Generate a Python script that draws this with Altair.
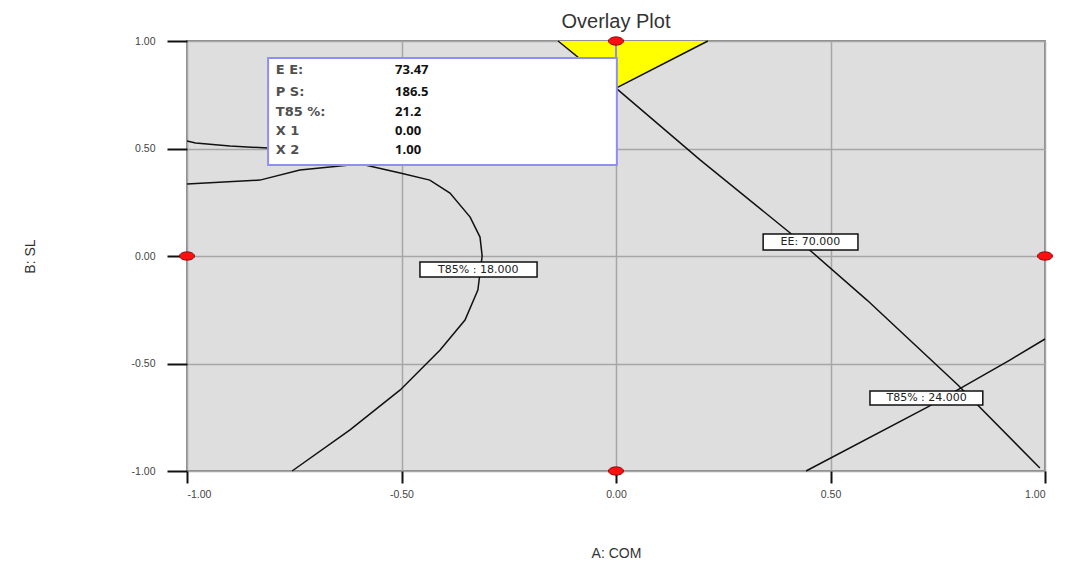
import altair as alt
import pandas as pd

# ---- data ----
ee_x = [-0.135, 0.0, 0.196, 0.406, 0.585, 0.797, 0.988]
ee_y = [1.0, 0.781, 0.447, 0.107, -0.205, -0.600, -0.986]
ps_x = [0.214, 0.0, -0.20]
ps_y = [1.0, 0.781, 0.58]
t18a_x = [-1.0, -0.98, -0.90, -0.811, -0.70]
t18a_y = [0.535, 0.526, 0.512, 0.502, 0.49]
t18b_x = [-1.0, -0.830, -0.737, -0.620, -0.585, -0.503, -0.434, -0.387, -0.340,
          -0.317, -0.312, -0.322, -0.352, -0.410, -0.503, -0.620, -0.755]
t18b_y = [0.335, 0.353, 0.400, 0.423, 0.423, 0.386, 0.353, 0.293, 0.181,
          0.088, 0.0, -0.158, -0.298, -0.437, -0.623, -0.809, -1.0]
t24_x = [0.443, 0.727, 0.918, 1.0]
t24_y = [-1.0, -0.702, -0.484, -0.386]

yellow_x = [-0.135, 0.0, 0.214]
yellow_top = [1.0, 1.0, 1.0]
yellow_bottom = [1.0, 0.781, 1.0]

design_x = [0.0, -1.0, 1.0, 0.0]
design_y = [1.0, 0.0, 0.0, -1.0]

clabel_text = ["EE: 70.000", "T85% : 18.000", "T85% : 24.000"]
clabel_x = [0.453, -0.321, 0.724]
clabel_y = [0.065, -0.063, -0.660]
clabel_x0 = [0.343, -0.457, 0.592]
clabel_x1 = [0.564, -0.184, 0.855]
clabel_y0 = [0.102, -0.028, -0.628]
clabel_y1 = [0.028, -0.098, -0.693]

tip_names = ["E E:", "P S:", "T85 %:", "X 1", "X 2"]
tip_values = ["73.47", "186.5", "21.2", "0.00", "1.00"]
tip_row_y = [0.865, 0.763, 0.670, 0.581, 0.493]
tip_name_x = -0.793
tip_value_x = -0.515
tip_box = dict(x=-0.811, x2=0.002, y=0.921, y2=0.423)

# ---- tables ----
rows = []
for name, xs_, ys_ in [("ee", ee_x, ee_y), ("ps", ps_x, ps_y), ("t18a", t18a_x, t18a_y),
                       ("t18b", t18b_x, t18b_y), ("t24", t24_x, t24_y)]:
    for i, (a, b) in enumerate(zip(xs_, ys_)):
        rows.append({"curve": name, "order": i, "x": a, "y": b})
lines_df = pd.DataFrame(rows)
yellow_df = pd.DataFrame({"x": yellow_x, "y": yellow_top, "y2": yellow_bottom})
design_df = pd.DataFrame({"x": design_x, "y": design_y})
clab_df = pd.DataFrame({"text": clabel_text, "x": clabel_x, "y": clabel_y,
                        "x0": clabel_x0, "x1": clabel_x1, "y0": clabel_y0, "y1": clabel_y1})
tipbox_df = pd.DataFrame([tip_box])
tipconn_df = pd.DataFrame({"x": [0.0], "y": [1.0], "y2": [tip_box["y"]]})
tipnames_df = pd.DataFrame({"text": tip_names, "x": [tip_name_x] * 5, "y": tip_row_y})
tipvals_df = pd.DataFrame({"text": tip_values, "x": [tip_value_x] * 5, "y": tip_row_y})

# ---- scales & axes ----
xs = alt.Scale(domain=[-1, 1], nice=False, zero=False)
ys = alt.Scale(domain=[-1, 1], nice=False, zero=False)
lab_expr = "replace(format(datum.value, '.2f'), '\u2212', '-')"
xax = alt.Axis(values=[-1, -0.5, 0, 0.5, 1], labelExpr=lab_expr, title="A: COM",
               grid=True, gridColor="#a6a6a6", gridWidth=1.5, domain=False,
               ticks=True, tickColor="#111111", tickWidth=2, tickSize=12, labelPadding=6,
               labelFont="Liberation Sans", labelFontSize=10.5, labelColor="#444444",
               titleFont="Liberation Sans", titleFontSize=14, titleFontWeight="normal",
               titleColor="#333333", titleX=429, titleY=82, titleBaseline="middle",
               titleAlign="center")
yax = alt.Axis(values=[-1, -0.5, 0, 0.5, 1], labelExpr=lab_expr, title="B: SL",
               grid=True, gridColor="#a6a6a6", gridWidth=1.5, domain=False,
               ticks=True, tickColor="#111111", tickWidth=2, tickSize=20, labelPadding=12,
               labelFont="Liberation Sans", labelFontSize=10.5, labelColor="#444444",
               titleFont="Liberation Sans", titleFontSize=14, titleFontWeight="normal",
               titleColor="#333333", titleX=-157, titleY=215, titleBaseline="middle",
               titleAlign="center", titleAngle=270)

X = alt.X("x:Q", scale=xs, axis=xax)
Y = alt.Y("y:Q", scale=ys, axis=yax)

yellow = alt.Chart(yellow_df).mark_area(color="#ffff00", opacity=1).encode(
    x=X, y=Y, y2="y2:Q")

lines = alt.Chart(lines_df).mark_line(color="#111111", strokeWidth=1.5).encode(
    x=X, y=Y, detail="curve:N", order="order:Q")

clab_box = alt.Chart(clab_df).mark_rect(fill="white", stroke="#111111", strokeWidth=1.5).encode(
    x=alt.X("x0:Q", scale=xs, axis=xax), x2="x1:Q",
    y=alt.Y("y0:Q", scale=ys, axis=yax), y2="y1:Q")
clab_text = alt.Chart(clab_df).mark_text(font="DejaVu Sans", fontSize=11, color="#222222",
                                         align="center", baseline="middle").encode(
    x=X, y=Y, text="text:N")

ellipse = "M -1 0 A 1 0.55 0 1 0 1 0 A 1 0.55 0 1 0 -1 0 Z"
points = alt.Chart(design_df).mark_point(shape=ellipse, filled=True, fill="#ff1010",
                                         stroke="#8a0000", strokeWidth=1, size=225,
                                         opacity=1).encode(x=X, y=Y)

tipbox = alt.Chart(tipbox_df).mark_rect(fill="white", stroke="#8f8ff0", strokeWidth=2).encode(
    x=X, x2="x2:Q", y=Y, y2="y2:Q")
tipconn = alt.Chart(tipconn_df).mark_rule(color="#8f8ff0", strokeWidth=2).encode(
    x=X, y=Y, y2="y2:Q")
tipnames = alt.Chart(tipnames_df).mark_text(font="DejaVu Sans", fontSize=13, fontWeight="bold",
                                            color="#505050", align="left",
                                            baseline="middle").encode(x=X, y=Y, text="text:N")
tipvals = alt.Chart(tipvals_df).mark_text(font="Open Sans", fontSize=13, fontWeight="bold",
                                          color="#111111", align="left",
                                          baseline="middle").encode(x=X, y=Y, text="text:N")

chart = alt.layer(yellow, lines, clab_box, clab_text, tipconn, tipbox, tipnames, tipvals,
                  points).properties(
    width=858, height=430,
    padding={"left": 179, "top": 33, "right": 12, "bottom": 100},
    autosize=alt.AutoSizeParams(type="none"),
    title=alt.TitleParams("Overlay Plot", font="Liberation Sans", fontSize=20,
                          fontWeight="normal", color="#333333", offset=3, anchor="middle"),
).configure_view(fill="#dedede", stroke="#8a8a8a", strokeWidth=2)

chart.save("out.html", embed_options={"renderer": "svg", "actions": False})
